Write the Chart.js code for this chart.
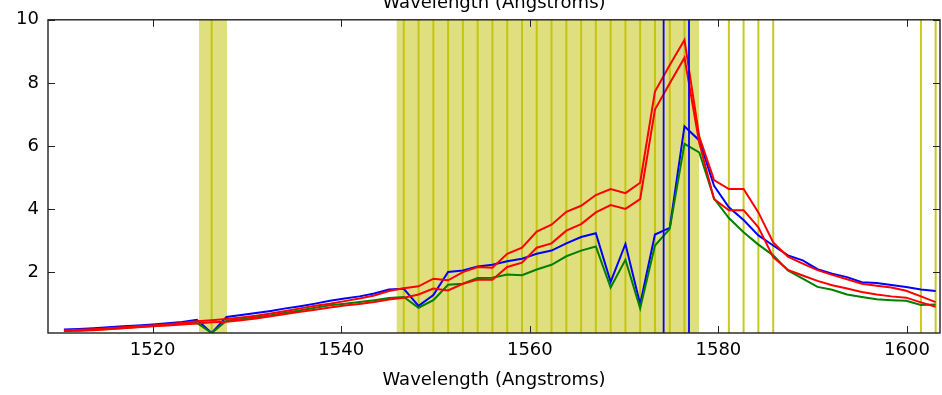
<!DOCTYPE html>
<html>
<head>
<meta charset="utf-8">
<script src="https://cdn.jsdelivr.net/npm/chart.js@4.4.1/dist/chart.umd.min.js"></script>
<style>
  html, body { margin: 0; padding: 0; background: #fff; overflow: hidden; }
  canvas { display: block; }
</style>
</head>
<body>
<canvas id="myChart" width="942" height="395"></canvas>
<script>
// longitudes de onda de cada pixel
const wavelength = [1510.59, 1512.16, 1513.72, 1515.29, 1516.86, 1518.43, 1519.99, 1521.56, 1523.13, 1524.69,
  1526.26, 1527.83, 1529.39, 1530.96, 1532.53, 1534.10, 1535.66, 1537.23, 1538.80, 1540.36,
  1541.93, 1543.50, 1545.06, 1546.63, 1548.20, 1549.77, 1551.33, 1552.90, 1554.47, 1556.03,
  1557.60, 1559.17, 1560.73, 1562.30, 1563.87, 1565.44, 1567.00, 1568.57, 1570.14, 1571.70,
  1573.27, 1574.84, 1576.40, 1577.97, 1579.54, 1581.11, 1582.67, 1584.24, 1585.81, 1587.37,
  1588.94, 1590.51, 1592.07, 1593.64, 1595.21, 1596.78, 1598.34, 1599.91, 1601.48, 1603.04];

const fluxBlue = [0.19, 0.21, 0.23, 0.26, 0.29, 0.32, 0.35, 0.39, 0.43, 0.50,
  0.08, 0.59, 0.65, 0.71, 0.78, 0.86, 0.93, 1.01, 1.10, 1.17,
  1.24, 1.33, 1.46, 1.48, 0.94, 1.28, 2.01, 2.06, 2.19, 2.24,
  2.35, 2.43, 2.59, 2.69, 2.92, 3.12, 3.24, 1.70, 2.90, 0.99,
  3.20, 3.41, 6.63, 6.18, 4.74, 4.06, 3.66, 3.17, 2.85, 2.54,
  2.38, 2.10, 1.96, 1.85, 1.69, 1.66, 1.60, 1.54, 1.46, 1.41];

const fluxGreen = [0.15, 0.16, 0.18, 0.21, 0.24, 0.27, 0.30, 0.33, 0.37, 0.40,
  0.08, 0.47, 0.52, 0.58, 0.64, 0.72, 0.80, 0.88, 0.96, 1.01,
  1.06, 1.12, 1.19, 1.22, 0.88, 1.12, 1.61, 1.64, 1.82, 1.83,
  1.93, 1.91, 2.09, 2.24, 2.51, 2.69, 2.82, 1.52, 2.40, 0.86,
  2.85, 3.38, 6.07, 5.80, 4.34, 3.72, 3.27, 2.88, 2.54, 2.06,
  1.80, 1.54, 1.45, 1.30, 1.22, 1.15, 1.12, 1.10, 0.97, 0.98];

const fluxRedA = [0.16, 0.18, 0.20, 0.23, 0.26, 0.29, 0.32, 0.36, 0.40, 0.45,
  0.48, 0.52, 0.57, 0.63, 0.70, 0.78, 0.86, 0.94, 1.01, 1.09,
  1.17, 1.27, 1.41, 1.50, 1.56, 1.80, 1.75, 2.01, 2.17, 2.15,
  2.59, 2.78, 3.29, 3.51, 3.92, 4.11, 4.45, 4.64, 4.51, 4.84,
  7.73, 8.57, 9.36, 6.30, 4.92, 4.64, 4.64, 3.90, 2.95, 2.50,
  2.28, 2.07, 1.92, 1.78, 1.64, 1.58, 1.52, 1.42, 1.24, 1.06];

const fluxRedB = [0.14, 0.15, 0.17, 0.20, 0.23, 0.26, 0.29, 0.32, 0.35, 0.38,
  0.42, 0.44, 0.48, 0.54, 0.61, 0.68, 0.75, 0.82, 0.89, 0.95,
  1.00, 1.06, 1.14, 1.20, 1.30, 1.49, 1.43, 1.64, 1.77, 1.77,
  2.17, 2.31, 2.78, 2.92, 3.32, 3.53, 3.90, 4.13, 4.01, 4.32,
  7.16, 7.99, 8.80, 6.10, 4.32, 3.97, 3.97, 3.43, 2.48, 2.08,
  1.90, 1.73, 1.59, 1.49, 1.38, 1.30, 1.24, 1.20, 1.05, 0.91];

// regiones enmascaradas [inicio, fin]
const maskSpans = [[1524.91, 1527.88], [1545.88, 1577.94]];
// pixeles enmascarados (lineas amarillas)
const maskLines = [1526.26,
  1546.63, 1548.20, 1549.77, 1551.33, 1552.90, 1554.47, 1556.03, 1557.60, 1559.17, 1560.73,
  1562.30, 1563.87, 1565.44, 1567.00, 1568.57, 1570.14, 1571.70, 1573.27, 1574.84, 1576.40,
  1581.11, 1582.67, 1584.24, 1585.81, 1601.48, 1603.04];
// lineas azules
const markLines = [1574.19, 1576.88];

const xTicks = [1520, 1540, 1560, 1580, 1600];
const yTicks = [2, 4, 6, 8, 10];
const xLabel = "Wavelength (Angstroms)";

const toPoints = (arr) => arr.map((v, i) => ({ x: wavelength[i], y: v }));

// fondo: regiones y lineas amarillas
const maskPlugin = {
  id: "mask",
  beforeDatasetsDraw(chart) {
    const { ctx, chartArea: a, scales: { x } } = chart;
    ctx.save();
    ctx.beginPath();
    ctx.rect(a.left, a.top, a.right - a.left, a.bottom - a.top);
    ctx.clip();
    ctx.fillStyle = "rgba(191,191,0,0.5)";
    maskSpans.forEach(([s, e]) => {
      const x0 = x.getPixelForValue(s);
      const x1 = x.getPixelForValue(e);
      ctx.fillRect(x0, a.top, x1 - x0, a.bottom - a.top);
    });
    ctx.strokeStyle = "rgba(191,191,0,0.85)";
    ctx.lineWidth = 2;
    maskLines.forEach((w) => {
      const px = x.getPixelForValue(w);
      ctx.beginPath();
      ctx.moveTo(px, a.top);
      ctx.lineTo(px, a.bottom);
      ctx.stroke();
    });
    ctx.restore();
  },
  afterDatasetsDraw(chart) {
    const { ctx, chartArea: a, scales: { x, y } } = chart;
    ctx.save();
    ctx.strokeStyle = "#0000ff";
    ctx.lineWidth = 1.8;
    markLines.forEach((w) => {
      const px = x.getPixelForValue(w);
      ctx.beginPath();
      ctx.moveTo(px, a.top);
      ctx.lineTo(px, a.bottom);
      ctx.stroke();
    });
    // marco y ticks hacia adentro
    ctx.strokeStyle = "#222";
    ctx.lineWidth = 1.4;
    ctx.strokeRect(a.left, a.top, a.right - a.left, a.bottom - a.top);
    ctx.lineWidth = 1;
    xTicks.forEach((v) => {
      const px = Math.round(x.getPixelForValue(v)) + 0.5;
      ctx.beginPath();
      ctx.moveTo(px, a.bottom);
      ctx.lineTo(px, a.bottom - 7);
      ctx.moveTo(px, a.top);
      ctx.lineTo(px, a.top + 7);
      ctx.stroke();
    });
    yTicks.forEach((v) => {
      const py = Math.round(y.getPixelForValue(v)) + 0.5;
      ctx.beginPath();
      ctx.moveTo(a.left, py);
      ctx.lineTo(a.left + 7, py);
      ctx.moveTo(a.right, py);
      ctx.lineTo(a.right - 7, py);
      ctx.stroke();
    });
    // etiquetas del eje
    ctx.fillStyle = "#000";
    ctx.font = '18px "DejaVu Sans"';
    ctx.textAlign = "center";
    ctx.textBaseline = "alphabetic";
    const cx = (a.left + a.right) / 2;
    ctx.fillText(xLabel, cx, 385);
    ctx.fillText(xLabel, cx, 8);
    ctx.restore();
  },
};

const ctx = document.getElementById("myChart");
const myChart = new Chart(ctx, {
  type: "line",
  data: {
    datasets: [
      { data: toPoints(fluxRedA), borderColor: "#ff0000" },
      { data: toPoints(fluxRedB), borderColor: "#ff0000" },
      { data: toPoints(fluxGreen), borderColor: "#008000" },
      { data: toPoints(fluxBlue), borderColor: "#0000ff" },
    ],
  },
  options: {
    responsive: false,
    animation: false,
    devicePixelRatio: 1,
    layout: { padding: { top: 18, right: 2, left: 0, bottom: 0 } },
    elements: {
      point: { radius: 0 },
      line: { borderWidth: 2, tension: 0, fill: false },
    },
    plugins: {
      legend: { display: false },
      tooltip: { enabled: false },
    },
    scales: {
      x: {
        type: "linear",
        min: 1508.9,
        max: 1603.5,
        afterFit: (scale) => { scale.height = 62; },
        afterBuildTicks: (scale) => { scale.ticks = xTicks.map((v) => ({ value: v })); },
        grid: { display: false, drawTicks: false },
        border: { display: false },
        ticks: {
          color: "#000",
          font: { family: "DejaVu Sans", size: 18 },
          padding: 7,
          maxRotation: 0,
          callback: (v) => v,
        },
      },
      y: {
        min: 0.08,
        max: 10,
        afterFit: (scale) => { scale.width = 48; },
        afterBuildTicks: (scale) => { scale.ticks = yTicks.map((v) => ({ value: v })); },
        grid: { display: false, drawTicks: false },
        border: { display: false },
        ticks: {
          color: "#000",
          font: { family: "DejaVu Sans", size: 18 },
          padding: 9,
          callback: (v) => v,
        },
      },
    },
  },
  plugins: [maskPlugin],
});
</script>
</body>
</html>
